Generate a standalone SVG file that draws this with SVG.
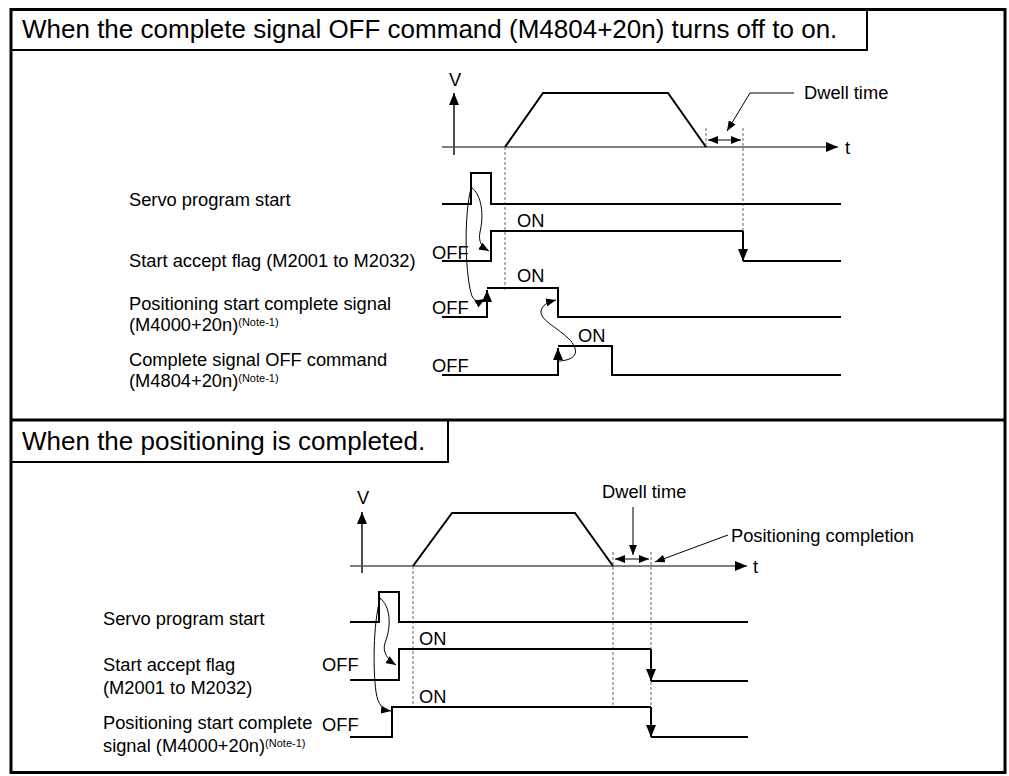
<svg xmlns="http://www.w3.org/2000/svg" width="1009" height="776" viewBox="0 0 1009 776">
<style>
text{font-family:"Liberation Sans",Arial,sans-serif;fill:#000}
.h{font-size:26px}
.l{font-size:18.3px}
.s{font-size:11px}
.sig{fill:none;stroke:#000;stroke-width:2}
.ax{fill:none;stroke:#555;stroke-width:1.4}
.vax{fill:none;stroke:#000;stroke-width:1.4}
.tr{fill:none;stroke:#000;stroke-width:2}
.dash{fill:none;stroke:#666;stroke-width:1;stroke-dasharray:3,2}
.cv{fill:none;stroke:#000;stroke-width:1}
.ld{fill:none;stroke:#000;stroke-width:1}
</style>
<defs>
<marker id="ah" markerUnits="userSpaceOnUse" markerWidth="12" markerHeight="10" refX="12" refY="5" orient="auto"><path d="M0,0 L12,5 L0,10 z" fill="#000"/></marker>
<marker id="as" markerUnits="userSpaceOnUse" markerWidth="10" markerHeight="8" refX="10" refY="4" orient="auto"><path d="M0,0 L10,4 L0,8 z" fill="#000"/></marker>
<marker id="asr" markerUnits="userSpaceOnUse" markerWidth="10" markerHeight="8" refX="0" refY="4" orient="auto"><path d="M10,0 L0,4 L10,8 z" fill="#000"/></marker>
</defs>
<g id="frame">
<rect x="11" y="9.5" width="994" height="763" fill="none" stroke="#000" stroke-width="3"/>
<line x1="11" y1="420" x2="1005" y2="420" stroke="#000" stroke-width="3"/>
</g>
<g id="header1">
<path d="M11,50 H867 V9.5" fill="none" stroke="#000" stroke-width="2"/>
<text class="h" x="22" y="38">When the complete signal OFF command (M4804+20n) turns off to on.</text>
</g>
<g id="header2">
<path d="M11,462 H448 V420" fill="none" stroke="#000" stroke-width="2"/>
<text class="h" x="22" y="450">When the positioning is completed.</text>
</g>
<g id="top-chart">
<line class="vax" x1="454" y1="155" x2="454" y2="93" marker-end="url(#ah)"/>
<text class="l" x="455" y="86" text-anchor="middle">V</text>
<line class="ax" x1="442" y1="147" x2="838" y2="147" marker-end="url(#ah)"/>
<text class="l" x="845" y="154">t</text>
<path class="tr" d="M505,147 L543,93 H668 L706,147"/>
<line class="dash" x1="505" y1="147" x2="505" y2="290"/>
<line class="dash" x1="706" y1="128" x2="706" y2="147"/>
<line class="dash" x1="743" y1="128" x2="743" y2="231"/>
<line class="ld" x1="708" y1="140" x2="741" y2="140" marker-start="url(#asr)" marker-end="url(#as)"/>
<path class="ld" d="M794,93 H750 L727,131" marker-end="url(#as)"/>
<text class="l" x="804" y="99">Dwell time</text>
</g>
<g id="top-labels">
<text class="l" x="129" y="206">Servo program start</text>
<text class="l" x="129" y="267">Start accept flag (M2001 to M2032)</text>
<text class="l" x="129" y="310">Positioning start complete signal</text>
<text class="l" x="129" y="331">(M4000+20n)<tspan class="s" dy="-5">(Note-1)</tspan></text>
<text class="l" x="129" y="366">Complete signal OFF command</text>
<text class="l" x="129" y="387">(M4804+20n)<tspan class="s" dy="-5">(Note-1)</tspan></text>
</g>
<g id="top-signals">
<path class="sig" d="M442,204 H471 V173 H491 V204 H841"/>
<path class="sig" d="M442,261 H491 V231 H743"/>
<line class="sig" x1="743" y1="231" x2="743" y2="261" marker-end="url(#ah)"/>
<path class="sig" d="M743,261 H841"/>
<text class="l" x="517" y="227">ON</text>
<text class="l" x="432" y="259">OFF</text>
<path class="sig" d="M442,317 H487 V290" marker-end="url(#ah)"/>
<path class="sig" d="M487,288 H558 V317 H841"/>
<text class="l" x="517" y="282">ON</text>
<text class="l" x="432" y="314">OFF</text>
<path class="sig" d="M442,375 H558 V348" marker-end="url(#ah)"/>
<path class="sig" d="M558,346 H612 V375 H841"/>
<text class="l" x="578" y="342">ON</text>
<text class="l" x="432" y="372">OFF</text>
</g>
<g id="top-connectors">
<path class="cv" d="M471,187 C482,195 484,215 480,232 C478,242 482,247 489,251" marker-end="url(#as)"/>
<path class="cv" d="M471,188 C464,215 465,270 471,293 C473,301 478,303 485,299" marker-end="url(#as)"/>
<path class="cv" d="M559,361 C578,360 580,350 568,338 C555,326 540,320 541,311 C542,305 548,302 556,300" marker-end="url(#as)"/>
</g>
<g id="bottom-chart">
<line class="vax" x1="362" y1="573" x2="362" y2="512" marker-end="url(#ah)"/>
<text class="l" x="363" y="504" text-anchor="middle">V</text>
<line class="ax" x1="350" y1="566" x2="747" y2="566" marker-end="url(#ah)"/>
<text class="l" x="753" y="573">t</text>
<path class="tr" d="M413,566 L452,513 H575 L613,566"/>
<line class="dash" x1="413" y1="566" x2="413" y2="707"/>
<line class="dash" x1="613" y1="552" x2="613" y2="707"/>
<line class="dash" x1="651" y1="552" x2="651" y2="707"/>
<line class="ld" x1="615" y1="559" x2="649" y2="559" marker-start="url(#asr)" marker-end="url(#as)"/>
<line class="ld" x1="633" y1="507" x2="633" y2="555" marker-end="url(#as)"/>
<text class="l" x="602" y="498">Dwell time</text>
<line class="ld" x1="728" y1="535" x2="655" y2="562" marker-end="url(#as)"/>
<text class="l" x="731" y="542">Positioning completion</text>
</g>
<g id="bottom-labels">
<text class="l" x="103" y="625">Servo program start</text>
<text class="l" x="103" y="671">Start accept flag</text>
<text class="l" x="103" y="694">(M2001 to M2032)</text>
<text class="l" x="103" y="729">Positioning start complete</text>
<text class="l" x="103" y="752">signal (M4000+20n)<tspan class="s" dy="-5">(Note-1)</tspan></text>
</g>
<g id="bottom-signals">
<path class="sig" d="M350,622 H379 V592 H399 V622 H748"/>
<path class="sig" d="M350,680 H399 V649 H651"/>
<line class="sig" x1="651" y1="649" x2="651" y2="681" marker-end="url(#ah)"/>
<path class="sig" d="M651,681 H748"/>
<text class="l" x="419" y="645">ON</text>
<text class="l" x="322" y="671">OFF</text>
<path class="sig" d="M350,737 H392 V707 H651"/>
<line class="sig" x1="651" y1="707" x2="651" y2="737" marker-end="url(#ah)"/>
<path class="sig" d="M651,737 H748"/>
<text class="l" x="419" y="703">ON</text>
<text class="l" x="322" y="731">OFF</text>
</g>
<g id="bottom-connectors">
<path class="cv" d="M380,598 C390,606 392,625 385,643 C382,652 388,660 396,665" marker-end="url(#as)"/>
<path class="cv" d="M380,599 C373,625 373,670 376,692 C378,705 383,710 391,711" marker-end="url(#as)"/>
</g>
</svg>
